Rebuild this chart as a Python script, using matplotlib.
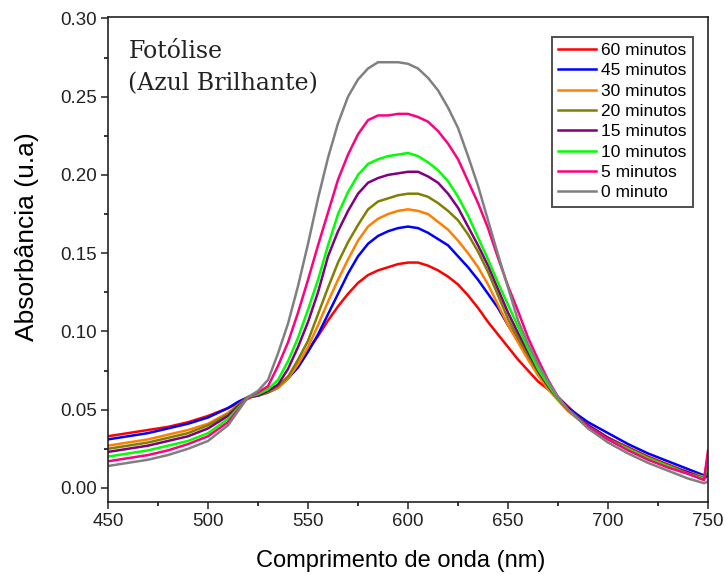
import matplotlib.pyplot as plt
from matplotlib.ticker import MultipleLocator

# wavelength grid (nm)
wavelength = [450, 460, 470, 480, 490, 500, 510,
              515, 520, 525, 530, 535, 540, 545, 550, 555, 560, 565, 570, 575, 580,
              585, 590, 595, 600, 605, 610, 615, 620, 625, 630, 635, 640, 645, 650,
              655, 660, 665, 670, 675, 680,
              690, 700, 710, 720, 730, 740, 748, 750]

abs_60 = [0.033, 0.035, 0.037, 0.039, 0.042, 0.046, 0.051,
          0.054, 0.057, 0.060, 0.063, 0.065, 0.071, 0.079, 0.088, 0.097, 0.107, 0.116, 0.124, 0.131, 0.136,
          0.139, 0.141, 0.143, 0.144, 0.144, 0.142, 0.139, 0.135, 0.130, 0.123, 0.115, 0.106, 0.098, 0.090,
          0.082, 0.075, 0.068, 0.063, 0.058, 0.052,
          0.040, 0.032, 0.026, 0.020, 0.015, 0.010, 0.006, 0.020]
abs_45 = [0.031, 0.033, 0.035, 0.038, 0.041, 0.045, 0.051,
          0.055, 0.058, 0.059, 0.061, 0.064, 0.070, 0.077, 0.087, 0.098, 0.111, 0.124, 0.137, 0.148, 0.156,
          0.161, 0.164, 0.166, 0.167, 0.166, 0.163, 0.159, 0.155, 0.148, 0.141, 0.133, 0.124, 0.115, 0.104,
          0.094, 0.084, 0.074, 0.066, 0.058, 0.051,
          0.042, 0.035, 0.028, 0.022, 0.017, 0.012, 0.008, 0.009]
abs_30 = [0.027, 0.029, 0.031, 0.034, 0.037, 0.041, 0.048,
          0.053, 0.058, 0.059, 0.061, 0.064, 0.070, 0.079, 0.090, 0.104, 0.119, 0.133, 0.146, 0.158, 0.167,
          0.172, 0.175, 0.177, 0.178, 0.177, 0.175, 0.170, 0.165, 0.158, 0.150, 0.141, 0.130, 0.117, 0.104,
          0.093, 0.082, 0.072, 0.063, 0.056, 0.049,
          0.039, 0.031, 0.025, 0.019, 0.014, 0.010, 0.007, 0.008]
abs_20 = [0.025, 0.027, 0.029, 0.032, 0.035, 0.040, 0.047,
          0.053, 0.058, 0.059, 0.061, 0.065, 0.071, 0.082, 0.094, 0.111, 0.128, 0.144, 0.157, 0.168, 0.178,
          0.183, 0.185, 0.187, 0.188, 0.188, 0.186, 0.182, 0.177, 0.171, 0.162, 0.151, 0.138, 0.123, 0.108,
          0.096, 0.085, 0.074, 0.065, 0.057, 0.050,
          0.040, 0.032, 0.025, 0.019, 0.014, 0.010, 0.006, 0.008]
abs_15 = [0.023, 0.025, 0.027, 0.030, 0.033, 0.038, 0.046,
          0.052, 0.058, 0.059, 0.062, 0.066, 0.076, 0.090, 0.106, 0.125, 0.148, 0.164, 0.177, 0.188, 0.195,
          0.198, 0.200, 0.201, 0.202, 0.202, 0.199, 0.195, 0.188, 0.179, 0.167, 0.155, 0.142, 0.127, 0.112,
          0.099, 0.087, 0.075, 0.065, 0.057, 0.050,
          0.040, 0.032, 0.025, 0.019, 0.014, 0.010, 0.006, 0.008]
abs_10 = [0.020, 0.022, 0.024, 0.027, 0.030, 0.035, 0.044,
          0.051, 0.058, 0.060, 0.063, 0.069, 0.081, 0.096, 0.114, 0.133, 0.155, 0.175, 0.189, 0.200, 0.207,
          0.210, 0.212, 0.213, 0.214, 0.212, 0.208, 0.203, 0.196, 0.186, 0.174, 0.160, 0.146, 0.131, 0.117,
          0.103, 0.089, 0.076, 0.066, 0.057, 0.050,
          0.039, 0.031, 0.025, 0.019, 0.014, 0.009, 0.006, 0.015]
abs_5 = [0.017, 0.019, 0.021, 0.024, 0.028, 0.033, 0.042,
         0.050, 0.058, 0.061, 0.065, 0.078, 0.093, 0.112, 0.133, 0.155, 0.176, 0.197, 0.213, 0.226, 0.235,
         0.238, 0.238, 0.239, 0.239, 0.237, 0.234, 0.228, 0.220, 0.210, 0.196, 0.182, 0.166, 0.147, 0.129,
         0.113, 0.096, 0.082, 0.069, 0.058, 0.050,
         0.039, 0.031, 0.024, 0.018, 0.013, 0.009, 0.005, 0.024]
abs_0 = [0.014, 0.016, 0.018, 0.021, 0.025, 0.030, 0.040,
         0.049, 0.058, 0.062, 0.069, 0.086, 0.105, 0.129, 0.156, 0.185, 0.211, 0.233, 0.250, 0.261, 0.268,
         0.272, 0.272, 0.272, 0.271, 0.268, 0.262, 0.254, 0.243, 0.230, 0.212, 0.193, 0.171, 0.149, 0.128,
         0.107, 0.092, 0.079, 0.068, 0.058, 0.050,
         0.038, 0.029, 0.022, 0.016, 0.011, 0.006, 0.003, 0.004]

series = [abs_60, abs_45, abs_30, abs_20, abs_15, abs_10, abs_5, abs_0]
labels = ["60 minutos", "45 minutos", "30 minutos", "20 minutos",
          "15 minutos", "10 minutos", "5 minutos", "0 minuto"]
colors = ["#ff0000", "#0000ff", "#ff8000", "#808000",
          "#800080", "#00ff00", "#ff0080", "#808080"]

plt.rcParams['font.family'] = ['Liberation Sans', 'DejaVu Sans']

fig = plt.figure(figsize=(7.25, 5.81), dpi=100)
ax = fig.add_axes([0.149, 0.136, 0.8276, 0.835])

for y, lab, c in zip(series, labels, colors):
    ax.plot(wavelength, y, color=c, lw=1.8, label=lab)

ax.set_xlim(450, 750)
ax.set_ylim(-0.009, 0.301)
ax.xaxis.set_major_locator(MultipleLocator(50))
ax.xaxis.set_minor_locator(MultipleLocator(25))
ax.yaxis.set_major_locator(MultipleLocator(0.05))
ax.yaxis.set_minor_locator(MultipleLocator(0.025))
ax.yaxis.set_major_formatter(plt.FormatStrFormatter('%.2f'))
ax.tick_params(which='major', direction='out', length=5, width=1.1, labelsize=13.5,
               colors='#222222', pad=3)
ax.tick_params(which='minor', direction='out', length=3, width=1.1)
for s in ax.spines.values():
    s.set_linewidth(1.2)
    s.set_color('#222222')

ax.set_xlabel("Comprimento de onda (nm)", fontsize=17)
ax.xaxis.set_label_coords(0.488, -0.1)
ax.set_ylabel("Absorbância (u.a)", fontsize=19)
ax.yaxis.set_label_coords(-0.115, 0.546)

ax.text(0.034, 0.952, "Fotólise\n(Azul Brilhante)", transform=ax.transAxes,
        family='DejaVu Serif', fontsize=17, va='top', ha='left',
        color='#222222', linespacing=1.5)

leg = ax.legend(loc='upper right', bbox_to_anchor=(0.975, 0.959), borderaxespad=0,
                fontsize=12.5, frameon=True, fancybox=False, edgecolor='#222222',
                handlelength=2.2, handletextpad=0.3, labelspacing=0.3,
                borderpad=0.35)
leg.get_frame().set_linewidth(1.4)

plt.savefig("out.png", dpi=100)
